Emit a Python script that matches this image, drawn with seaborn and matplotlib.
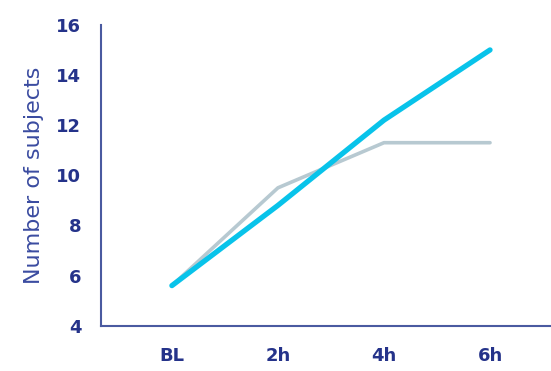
import matplotlib
matplotlib.use("Agg")
import matplotlib.pyplot as plt
import seaborn as sns
import pandas as pd

categories = ["BL", "2h", "4h", "6h"]
cyan_values = [5.6, 8.8, 12.2, 15.0]
gray_values = [5.6, 9.5, 11.3, 11.3]
y_ticks = [4, 6, 8, 10, 12, 14, 16]

sns.set_style("white")
plt.rcParams['font.family'] = ['DejaVu Sans']

df = pd.DataFrame({
    "time": categories * 2,
    "value": gray_values + cyan_values,
    "series": ["gray"] * 4 + ["cyan"] * 4,
})

fig = plt.figure(figsize=(5.51, 3.71), dpi=100)
ax = fig.add_axes([0.183, 0.122, 0.817, 0.811])

navy = "#25338a"
sns.lineplot(data=df[df.series == "gray"], x="time", y="value", ax=ax,
             color="#b7c9d1", linewidth=2.6, sort=False)
sns.lineplot(data=df[df.series == "cyan"], x="time", y="value", ax=ax,
             color="#08c3ea", linewidth=3.8, sort=False, solid_capstyle="round")

ax.set_ylim(4, 16)
ax.set_xlim(-0.67, 3.575)
ax.set_yticks(y_ticks)
ax.set_xticks(range(len(categories)))
ax.set_xticklabels(categories)
ax.set_xlabel("")
ax.set_ylabel("Number of subjects", color="#3a4ba0", fontsize=16, labelpad=9)

for lab in ax.get_xticklabels() + ax.get_yticklabels():
    lab.set_fontweight("bold")
    lab.set_color(navy)
    lab.set_fontsize(13)

ax.tick_params(axis="both", length=0)
ax.tick_params(axis="y", pad=14)
ax.tick_params(axis="x", pad=15)

for s in ["top", "right"]:
    ax.spines[s].set_visible(False)
for s in ["left", "bottom"]:
    ax.spines[s].set_color("#4a5aa0")
    ax.spines[s].set_linewidth(1.5)

fig.savefig("out.png", dpi=100)
